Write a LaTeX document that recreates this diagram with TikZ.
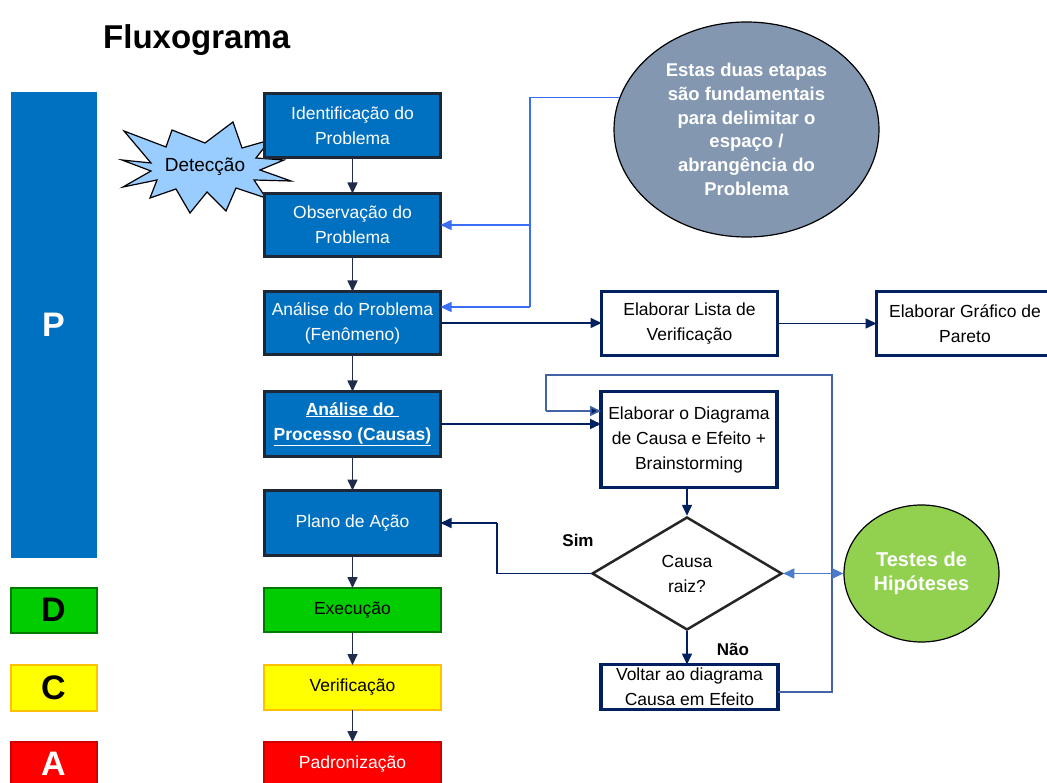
\documentclass[tikz,border=0pt]{standalone}
\usepackage{fontspec}
\setmainfont{Liberation Sans}
\usetikzlibrary{arrows.meta,shapes.geometric,calc}
\definecolor{boxblue}{HTML}{0070C0}
\definecolor{boxedge}{HTML}{1E2735}
\definecolor{navy}{HTML}{002060}
\definecolor{arrowc}{HTML}{1F2D4A}
\definecolor{lightb}{HTML}{3A6EF5}
\definecolor{loopc}{HTML}{4462A6}
\definecolor{dblc}{HTML}{4A7CCB}
\definecolor{grayell}{HTML}{8497B0}
\definecolor{greenell}{HTML}{92D050}
\definecolor{starb}{HTML}{99CCFF}
\definecolor{dgreen}{HTML}{00CC00}
\definecolor{dgreenedge}{HTML}{007A00}
\definecolor{yel}{HTML}{FFFF00}
\definecolor{yeledge}{HTML}{FFC000}
\definecolor{redf}{HTML}{FF0000}
\definecolor{rededge}{HTML}{CC0000}
\definecolor{diaedge}{HTML}{262626}
\begin{document}
\begin{tikzpicture}[x=1pt,y=-1pt,
  txt/.style={font=\fontsize{17.5}{25}\selectfont, align=center, inner sep=0pt, outer sep=0pt},
  bluebox/.style={txt, draw=boxedge, line width=3pt, fill=boxblue, text=white, minimum width=176pt},
  whitebox/.style={txt, draw=navy, line width=3.5pt, fill=white, text=black},
  greenbox/.style={txt, draw=dgreenedge, line width=2pt, fill=dgreen, text=black},
  yelbox/.style={txt, draw=yeledge, line width=2pt, fill=yel, text=black},
  redbox/.style={txt, draw=rededge, line width=2pt, fill=redf, text=white},
  pdca/.style={font=\fontsize{34}{40}\selectfont\bfseries, inner sep=0pt, outer sep=0pt, minimum width=86pt},
  mainarr/.style={draw=arrowc, line width=1.6pt, -{Triangle[length=11pt,width=10pt]}},
  navyarr/.style={draw=navy, line width=1.6pt, -{Triangle[length=11pt,width=10pt]}},
  navyline/.style={draw=navy, line width=1.6pt},
  lbline/.style={draw=lightb, line width=1.4pt},
  lbarr/.style={draw=lightb, line width=1.4pt, -{Triangle[length=11pt,width=10pt]}},
  loopline/.style={draw=loopc, line width=1.6pt},
  looparr/.style={draw=loopc, line width=1.6pt, -{Triangle[length=11pt,width=10pt,fill=navy]}},
  dblarr/.style={draw=dblc, line width=1.4pt, {Triangle[length=11pt,width=10pt]}-{Triangle[length=11pt,width=10pt]}},
  lbl/.style={font=\fontsize{17}{20}\selectfont\bfseries, inner sep=0pt}
]
\useasboundingbox (0,0) rectangle (1047,783);
\fill[white] (0,0) rectangle (1047,783);

% title
\node[anchor=base west, font=\fontsize{33}{38}\selectfont\bfseries, inner sep=0pt] (title) at (103,49) {Fluxograma};

% PDCA column
\node[pdca, fill=boxblue, text=white, minimum height=466pt] (P) at (53.5,325) {P};
\node[pdca, fill=dgreen, draw=dgreenedge, line width=2pt, text=black, minimum height=45pt] (D) at (53.5,610) {D};
\node[pdca, fill=yel, draw=yeledge, line width=2pt, text=black, minimum height=46pt] (C) at (53.5,687.5) {C};
\node[pdca, fill=redf, draw=rededge, line width=2pt, text=white, minimum height=45pt] (A) at (53.5,764) {A};

% starburst Detecção
\draw[fill=starb, draw=black, line width=1.2pt]
  (122,160) -- (151,163) -- (124,131) -- (166,147) -- (172,130) -- (205,143)
  -- (233,122) -- (242,148) -- (270,140) -- (256,158) -- (284,160) -- (260,170)
  -- (291,181) -- (254,180) -- (266,198) -- (236,188) -- (226,211) -- (207,192)
  -- (190,213) -- (176,189) -- (150,198) -- (157,180) -- (123,187) -- (151,171) -- cycle;
\node[font=\fontsize{19}{22}\selectfont, inner sep=0pt] (det) at (205,167) {Detecção};

% main column
\node[bluebox, minimum height=64pt] (iden) at (352.5,125.5) {Identificação do\\Problema};
\node[bluebox, minimum height=63pt] (obs) at (352.5,225) {Observação do\\Problema};
\node[bluebox, minimum height=63pt] (ana) at (352.5,323) {Análise do Problema\\(Fenômeno)};
\node[bluebox, minimum height=65pt, font=\fontsize{17.5}{25}\selectfont\bfseries] (proc) at (352.5,424) {\underline{Análise do\ }\\\underline{Processo (Causas)}};
\node[bluebox, minimum height=65pt] (plano) at (352.5,523) {Plano de Ação};
\node[greenbox, minimum width=177pt, minimum height=44pt] (exe) at (352.5,610) {Execução};
\node[yelbox, minimum width=177pt, minimum height=45pt] (ver) at (352.5,687.5) {Verificação};
\node[redbox, minimum width=177pt, minimum height=44pt] (pad) at (352.5,764) {Padronização};

\draw[mainarr] (iden) -- (obs);
\draw[mainarr] (obs) -- (ana);
\draw[mainarr] (ana) -- (proc);
\draw[mainarr] (proc) -- (plano);
\draw[mainarr] (plano) -- (exe);
\draw[mainarr] (exe) -- (ver);
\draw[mainarr] (ver) -- (pad);

% gray ellipse
\node[ellipse, draw=black, line width=1.2pt, fill=grayell, minimum width=265pt, minimum height=215pt, inner sep=0pt,
  text=white, align=center, font=\fontsize{18.5}{23.7}\selectfont\bfseries] (ell) at (746.5,129.5)
  {Estas duas etapas\\são fundamentais\\para delimitar o\\espaço /\\abrangência do\\Problema};
\coordinate (j1) at (530,307);
\draw[lbline] (ell.166) -| (j1);
\draw[lbarr] (j1) -- (j1 -| ana.east);
\draw[lbarr] (obs.east -| j1) -- (obs.east);

% right boxes
\node[whitebox, minimum width=176pt, minimum height=64pt] (lista) at (689.5,323.5) {Elaborar Lista de\\Verificação};
\node[whitebox, minimum width=177pt, minimum height=64pt] (pareto) at (965,323.5) {Elaborar Gráfico de\\Pareto};
\draw[navyarr] (ana.east) -- (ana.east -| lista.west);
\draw[navyarr] (lista.east) -- (lista.east -| pareto.west);

\node[whitebox, minimum width=176pt, minimum height=96pt] (diag) at (689,439.5) {Elaborar o Diagrama\\de Causa e Efeito +\\Brainstorming};
\draw[navyarr] (proc.east) -- (proc.east -| diag.west);

\node[diamond, draw=diaedge, line width=2.5pt, fill=white, minimum width=190pt, minimum height=113pt, inner sep=0pt,
  align=center, font=\fontsize{17.5}{25}\selectfont] (dia) at (687,573.5) {Causa\\raiz?};
\draw[navyarr] (diag.south -| dia.north) -- (dia.north);

\node[whitebox, minimum width=177pt, minimum height=45pt] (volt) at (689.5,687) {Voltar ao diagrama\\Causa em Efeito};
\draw[navyarr] (dia.south) -- (dia.south |- volt.north);

\node[lbl] (nao) at (733,649) {Não};
\node[lbl] (sim) at (578,540) {Sim};

\coordinate (s1) at (497,523);
\draw[navyline] (dia.west) -| (s1);
\draw[navyarr] (s1) -- (plano.east);

% loop back
\coordinate (lp1) at (832,375);
\coordinate (lp2) at (546,411);
\draw[loopline] ([yshift=-5pt]volt.east) -| (lp1) -| (lp2);
\draw[looparr] (lp2) -- (lp2 -| diag.west);

% testes de hipoteses
\node[ellipse, draw=black, line width=1.2pt, fill=greenell, minimum width=155pt, minimum height=137pt, inner sep=0pt,
  text=white, align=center, font=\fontsize{20}{24}\selectfont\bfseries] (test) at (921.5,573.5) {Testes de\\Hipóteses};
\draw[dblarr] (dia.east) -- (test.west);
\end{tikzpicture}
\end{document}
